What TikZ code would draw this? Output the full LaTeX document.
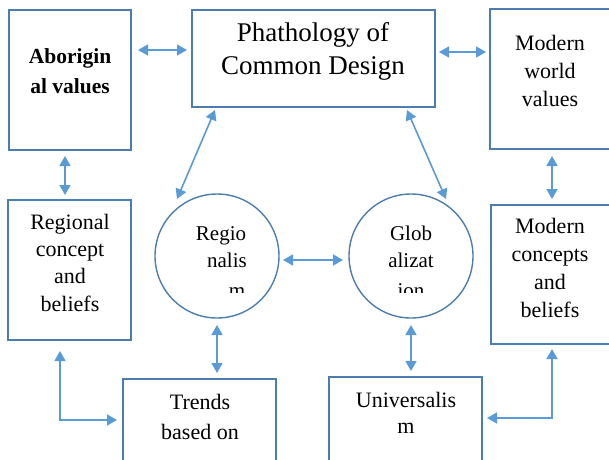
\documentclass[tikz,border=0pt]{standalone}
\usepackage{fontspec}
\setmainfont{Liberation Serif}
\usetikzlibrary{arrows.meta}
\definecolor{boxc}{RGB}{75,125,175}
\definecolor{arrc}{RGB}{91,155,213}
\begin{document}
\begin{tikzpicture}[x=1pt,y=-1pt,
  boxs/.style={draw=boxc,line width=1.4pt},
  conn/.style={draw=arrc,line width=1.6pt,{Triangle[length=10pt,width=11pt]}-{Triangle[length=10pt,width=11pt]}},
  txt/.style={anchor=base,inner sep=0pt,font=\fontsize{22}{26}\selectfont},
  btxt/.style={anchor=base,inner sep=0pt,font=\fontsize{21.5}{26}\selectfont\bfseries},
  ctxt/.style={anchor=base,inner sep=0pt,font=\fontsize{21}{25}\selectfont},
  ttl/.style={anchor=base,inner sep=0pt,font=\fontsize{27}{31}\selectfont}]
\useasboundingbox (0,0) rectangle (609,459);
\clip (0,0) rectangle (609,459);
% boxes
\node[boxs,inner sep=0pt,minimum width=122pt,minimum height=140pt] (abor) at (70,80) {};
\node[boxs,inner sep=0pt,minimum width=243pt,minimum height=97pt] (phat) at (313.5,58.5) {};
\node[boxs,inner sep=0pt,minimum width=130pt,minimum height=140pt] (mwv) at (555,79) {};
\node[boxs,inner sep=0pt,minimum width=123pt,minimum height=140pt] (reg) at (69.5,270) {};
\node[boxs,inner sep=0pt,minimum width=129pt,minimum height=139pt] (mcb) at (555.5,274.5) {};
\node[boxs,inner sep=0pt,minimum width=153pt,minimum height=91pt] (trends) at (199.5,424.5) {};
\node[boxs,inner sep=0pt,minimum width=153pt,minimum height=93pt] (univ) at (405.5,423.5) {};
\node[boxs,circle,inner sep=0pt,minimum size=124pt] (regc) at (217,256) {};
\node[boxs,circle,inner sep=0pt,minimum size=124pt] (globc) at (411,256) {};
% texts
\node[btxt] (t1a) at (70,63) {Aborigin};
\node[btxt] (t1b) at (70,93) {al values};
\node[ttl] (t2a) at (313,41) {Phathology of};
\node[ttl] (t2b) at (313,74) {Common Design};
\node[txt] (t3a) at (550,50) {Modern};
\node[txt] (t3b) at (550,78) {world};
\node[txt] (t3c) at (550,106) {values};
\node[txt] (t4a) at (70,229) {Regional};
\node[txt] (t4b) at (70,256) {concept};
\node[txt] (t4c) at (70,283) {and};
\node[txt] (t4d) at (70,311) {beliefs};
\node[txt] (t5a) at (550,233) {Modern};
\node[txt] (t5b) at (550,261) {concepts};
\node[txt] (t5c) at (550,289) {and};
\node[txt] (t5d) at (550,317) {beliefs};
\node[txt] (t6a) at (200,409) {Trends};
\node[txt] (t6b) at (200,439) {based on};
\node[txt] (t7a) at (406,407) {Universalis};
\node[txt] (t7b) at (406,433) {m};
\begin{scope}
\clip (150,200) rectangle (480,292);
\node[ctxt] (t8a) at (221,240) {Regio};
\node[ctxt] (t8b) at (227,267) {nalis};
\node[ctxt] (t8c) at (237,297) {m};
\node[ctxt] (t9a) at (411,240) {Glob};
\node[ctxt] (t9b) at (411,267) {alizat};
\node[ctxt] (t9c) at (411,297) {ion};
\end{scope}
% connector end points
\coordinate (c1) at (138,50);  \coordinate (c2) at (187,50);
\coordinate (c3) at (439,52);  \coordinate (c4) at (486,52);
\coordinate (c5) at (65,156);  \coordinate (c6) at (65,195);
\coordinate (c7) at (552,156); \coordinate (c8) at (552,199);
\coordinate (c9) at (215,110); \coordinate (c10) at (177,199);
\coordinate (c11) at (407,110);\coordinate (c12) at (446,199);
\coordinate (c13) at (283,260);\coordinate (c14) at (343,260);
\coordinate (c15) at (217,325);\coordinate (c16) at (217,373);
\coordinate (c17) at (411,325);\coordinate (c18) at (411,371);
\coordinate (c19) at (60,351); \coordinate (c20) at (117,420);
\coordinate (c21) at (552,349);\coordinate (c22) at (487,418);
% connectors
\draw[conn] (c1) -- (c2);
\draw[conn] (c3) -- (c4);
\draw[conn] (c5) -- (c6);
\draw[conn] (c7) -- (c8);
\draw[conn] (c9) -- (c10);
\draw[conn] (c11) -- (c12);
\draw[conn] (c13) -- (c14);
\draw[conn] (c15) -- (c16);
\draw[conn] (c17) -- (c18);
\draw[conn] (c19) |- (c20);
\draw[conn] (c21) |- (c22);
\end{tikzpicture}
\end{document}
